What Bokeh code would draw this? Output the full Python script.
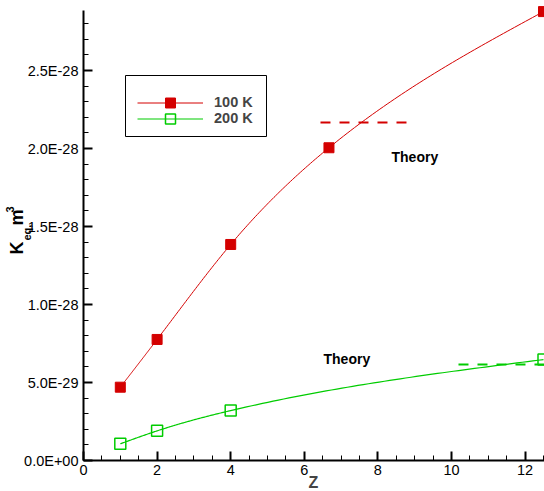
import numpy as np
from bokeh.plotting import figure
from bokeh.models import (FixedTicker, CustomJSTickFormatter, Label, Legend,
                          LegendItem, Range1d, BoxAnnotation)
from bokeh.embed import file_html
from bokeh.resources import INLINE

# ---- data ----
z_100 = [1, 2, 4, 6.67, 12.5]
k_100 = [4.7e-29, 7.76e-29, 1.385e-28, 2.005e-28, 2.878e-28]
z_200 = [1, 2, 4, 12.5]
k_200 = [1.07e-29, 1.9e-29, 3.2e-29, 6.47e-29]
theory_100_z = [6.44, 8.82]
theory_100_k = 2.167e-28
theory_200_z = [10.19, 12.8]
theory_200_k = 6.15e-29
x_ticks = [0, 2, 4, 6, 8, 10, 12]
y_ticks = [0, 5e-29, 1e-28, 1.5e-28, 2e-28, 2.5e-28]
series_labels = ["100 K", "200 K"]

RED = "#d40000"
GREEN = "#00cc00"
FONT = "Liberation Sans"

W, H = 544, 491
# layout: pixel position of the axes origin and scale
X0_PX, Y0_PX = 83, 460
PPX = 36.8                     # pixels per unit Z
PPY = 450 / 2.885e-28          # pixels per unit K


def natural_spline(x, y, n=60):
    x = np.asarray(x, float)
    y = np.asarray(y, float)
    m = len(x)
    h = np.diff(x)
    A = np.zeros((m, m))
    r = np.zeros(m)
    A[0, 0] = A[-1, -1] = 1.0
    for i in range(1, m - 1):
        A[i, i - 1] = h[i - 1]
        A[i, i] = 2 * (h[i - 1] + h[i])
        A[i, i + 1] = h[i]
        r[i] = 3 * ((y[i + 1] - y[i]) / h[i] - (y[i] - y[i - 1]) / h[i - 1])
    c = np.linalg.solve(A, r)
    xs, ys = [], []
    for i in range(m - 1):
        b = (y[i + 1] - y[i]) / h[i] - h[i] * (2 * c[i] + c[i + 1]) / 3
        d = (c[i + 1] - c[i]) / (3 * h[i])
        t = np.linspace(0, h[i], n)
        xs.extend(list(x[i] + t))
        ys.extend(list(y[i] + b * t + c[i] * t ** 2 + d * t ** 3))
    return xs, ys


def rx(px):
    return (px - X0_PX) / PPX


def ry(py):
    return (Y0_PX - py) / PPY


p = figure(width=W, height=H,
           x_range=Range1d(rx(0), rx(W)), y_range=Range1d(ry(H), ry(0)),
           output_backend="svg", toolbar_location=None,
           min_border_left=0, min_border_right=0,
           min_border_top=0, min_border_bottom=0)
p.grid.visible = False
p.outline_line_color = None
p.background_fill_color = "white"
p.border_fill_color = "white"

# axes (drawn inside the frame at the origin)
for ax in (p.xaxis[0], p.yaxis[0]):
    ax.fixed_location = 0
    ax.axis_line_width = 2
    ax.axis_line_color = "black"
    ax.major_tick_line_width = 2
    ax.major_tick_line_color = "black"
    ax.minor_tick_line_width = 1
    ax.minor_tick_line_color = "black"
    ax.major_tick_out = 0
    ax.minor_tick_out = 0
    ax.major_tick_in = 9
    ax.minor_tick_in = 5
    ax.major_label_text_font = FONT
    ax.major_label_text_font_size = "14.5px"
    ax.major_label_text_color = "black"

p.xaxis.ticker = FixedTicker(ticks=x_ticks, minor_ticks=list(np.arange(0, 12.6, 0.5)))
p.xaxis.bounds = (0, rx(W))
p.xaxis.major_label_standoff = 4
p.yaxis.ticker = FixedTicker(ticks=y_ticks, minor_ticks=[i * 1e-29 for i in range(29)])
p.yaxis.bounds = (0, ry(10))
p.yaxis.major_label_standoff = 5
p.yaxis.formatter = CustomJSTickFormatter(code="""
const s = tick.toExponential(1).toUpperCase();
const parts = s.split("E");
const sign = parts[1][0];
let d = parts[1].slice(1);
if (d.length < 2) { d = "0" + d; }
return parts[0] + "E" + sign + d;
""")

# curves
x1, y1 = natural_spline(z_100, k_100)
x2, y2 = natural_spline(z_200, k_200)
l1 = p.line(x1, y1, line_color=RED, line_width=1)
s1 = p.scatter(z_100, k_100, marker="square", size=10, fill_color=RED, line_color=RED)
l2 = p.line(x2, y2, line_color=GREEN, line_width=1.2)
s2 = p.scatter(z_200, k_200, marker="square", size=11, fill_color=None,
               line_color=GREEN, line_width=1.5)

# theory dashed lines
p.line(theory_100_z, [theory_100_k] * 2, line_color=RED, line_width=2, line_dash="10 9")
p.line(theory_200_z, [theory_200_k] * 2, line_color=GREEN, line_width=2, line_dash="10 9")

for txt, xx, yy in [("Theory", rx(391), ry(156)), ("Theory", rx(323), ry(358))]:
    p.add_layout(Label(x=xx, y=yy, text=txt, text_font=FONT,
                       text_font_size="14px", text_font_style="bold",
                       text_color="black", text_align="left",
                       text_baseline="middle"))

# x axis title
p.add_layout(Label(x=rx(313), y=ry(482), text="Z", text_font=FONT,
                   text_font_size="16px", text_font_style="bold",
                   text_align="center", text_baseline="middle"))

# y axis title  K_eq, m^3 (rotated)
ylab = [("K", 16.5, 254, "18px"), ("eq,", 26, 240, "11px"),
        ("m", 16.5, 225, "18px"), ("3", 9.5, 212, "11px")]
for txt, px, py, fs in ylab:
    p.add_layout(Label(x=rx(px), y=ry(py), text=txt, angle=np.pi / 2,
                       text_font=FONT, text_font_size=fs,
                       text_font_style="bold", text_color="black",
                       text_align="left", text_baseline="middle"))

# legend frame
p.add_layout(BoxAnnotation(left=rx(125), right=rx(266), top=ry(75), bottom=ry(136),
                           fill_color="white", fill_alpha=1.0,
                           line_color="black", line_width=1, line_alpha=1.0,
                           level="annotation"))

# legend entries (one per series, stacked inside the frame)
entries = [(series_labels[0], [l1, s1], 102), (series_labels[1], [l2, s2], 118)]
for lab, rends, cy in entries:
    lg = Legend(items=[LegendItem(label=lab, renderers=rends)],
                location=(137, H - cy - 12.5), orientation="vertical",
                glyph_width=66, glyph_height=25, label_height=16,
                label_standoff=11, spacing=0, padding=0, margin=0,
                label_text_font=FONT, label_text_font_size="14.5px",
                label_text_font_style="bold",
                border_line_color=None, background_fill_alpha=0.0)
    p.add_layout(lg)

open("out.html", "w").write(file_html(p, INLINE))
